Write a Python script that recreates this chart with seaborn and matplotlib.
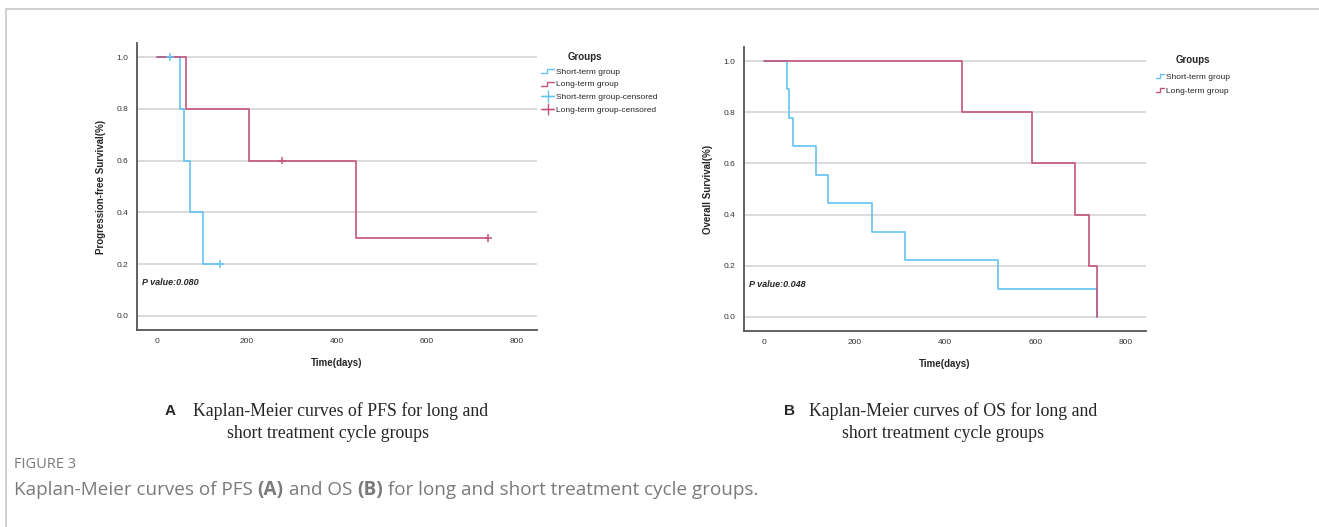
import matplotlib
matplotlib.use("Agg")
import matplotlib.pyplot as plt
from matplotlib.lines import Line2D
from matplotlib.legend_handler import HandlerBase
import numpy as np
import pandas as pd
import seaborn as sns

sns.set_style("white")
plt.rcParams["font.family"] = ["Liberation Sans", "DejaVu Sans"]

# --- data (days, survival proportion) ---
groups = ["Short-term group", "Long-term group"]

pfs_short_t = [0, 52, 61, 74, 102, 141]
pfs_short_s = [1.0, 0.8, 0.6, 0.4, 0.2, 0.2]
pfs_long_t = [0, 64, 204, 442, 737]
pfs_long_s = [1.0, 0.8, 0.6, 0.3, 0.3]
pfs_short_cens_t = [30, 141]
pfs_short_cens_s = [1.0, 0.2]
pfs_long_cens_t = [278, 737]
pfs_long_cens_s = [0.6, 0.3]

os_short_t = [0, 52, 55, 65, 115, 142, 239, 312, 518, 736]
os_short_s = [1.0, 0.889, 0.778, 0.667, 0.556, 0.444, 0.333, 0.222, 0.111, 0.0]
os_long_t = [0, 438, 594, 687, 719, 737]
os_long_s = [1.0, 0.8, 0.6, 0.4, 0.2, 0.0]

p_values = ["P value:0.080", "P value:0.048"]
x_ticks = [0, 200, 400, 600, 800]
y_ticks = [0.0, 0.2, 0.4, 0.6, 0.8, 1.0]

blue = "#62c3f4"
red = "#c4547c"
palette = {groups[0]: blue, groups[1]: red}


def curve_df(t_short, s_short, t_long, s_long):
    return pd.concat([
        pd.DataFrame({"time": t_short, "surv": s_short, "group": groups[0]}),
        pd.DataFrame({"time": t_long, "surv": s_long, "group": groups[1]}),
    ], ignore_index=True)


class StepHandler(HandlerBase):
    # little step glyph like the SPSS legend
    def create_artists(self, legend, orig, xd, yd, width, height, fontsize, trans):
        y0 = yd + height * 0.15
        y1 = yd + height * 0.8
        xs = [xd, xd + width * 0.45, xd + width * 0.45, xd + width]
        ys = [y0, y0, y1, y1]
        ln = Line2D(xs, ys, color=orig.get_color(), lw=1.0, transform=trans)
        return [ln]


def fx(px):
    return px / 1319


def fy(py):
    return 1 - py / 527


fig = plt.figure(figsize=(13.19, 5.27), dpi=100)
fig.patch.set_facecolor("white")

# thin frame lines top and left
fig.add_artist(Line2D([fx(6), 1], [fy(9), fy(9)], color="#c8c8c8", lw=1.2))
fig.add_artist(Line2D([fx(6), fx(6)], [0, fy(9)], color="#c8c8c8", lw=1.2))

axA = fig.add_axes([fx(137), fy(330), 400 / 1319, 287 / 527])
axB = fig.add_axes([fx(744), fy(331), 402 / 1319, 284 / 527])


def style_axes(ax, ylabel, ptext):
    ax.set_xlim(-44, 845)
    ax.set_ylim(-0.055, 1.055)
    ax.set_xticks(x_ticks)
    ax.set_yticks(y_ticks)
    ax.set_yticklabels([f"{v:.1f}" for v in y_ticks])
    ax.tick_params(length=0, labelsize=6, colors="#333333", pad=6)
    ax.yaxis.grid(True, color="#d4d4d4", lw=1.2)
    ax.xaxis.grid(False)
    ax.set_axisbelow(True)
    for side in ["top", "right"]:
        ax.spines[side].set_visible(False)
    for side in ["left", "bottom"]:
        ax.spines[side].set_color("#555555")
        ax.spines[side].set_linewidth(1.3)
    ax.set_xlabel("Time(days)", fontsize=7, fontweight="bold", labelpad=9)
    ax.set_ylabel(ylabel, fontsize=7, fontweight="bold", labelpad=8)
    ax.text(0.013, 0.165, ptext, transform=ax.transAxes, fontsize=6.5,
            fontweight="bold", fontstyle="italic", va="center")


# panel A: PFS
pfs = curve_df(pfs_short_t, pfs_short_s, pfs_long_t, pfs_long_s)
sns.lineplot(data=pfs, x="time", y="surv", hue="group", palette=palette,
             estimator=None, sort=False, drawstyle="steps-post", lw=1.2,
             legend=False, ax=axA)
cens = curve_df(pfs_short_cens_t, pfs_short_cens_s, pfs_long_cens_t, pfs_long_cens_s)
sns.scatterplot(data=cens, x="time", y="surv", hue="group", palette=palette,
                marker="+", s=30, linewidth=1.1, legend=False, ax=axA, zorder=3)
style_axes(axA, "Progression-free Survival(%)", p_values[0])

# panel B: OS
osd = curve_df(os_short_t, os_short_s, os_long_t, os_long_s)
sns.lineplot(data=osd, x="time", y="surv", hue="group", palette=palette,
             estimator=None, sort=False, drawstyle="steps-post", lw=1.2,
             legend=False, ax=axB)
style_axes(axB, "Overall Survival(%)", p_values[1])

# legends
step_blue = Line2D([], [], color=blue)
step_red = Line2D([], [], color=red)
handles_A = [
    step_blue, step_red,
    Line2D([], [], color=blue, marker="+", ms=8, lw=1.0),
    Line2D([], [], color=red, marker="+", ms=8, lw=1.0),
]
labels_A = [groups[0], groups[1], groups[0] + "-censored", groups[1] + "-censored"]
fig.text(fx(585), fy(57), "Groups", fontsize=7, fontweight="bold", ha="center", va="center")
legA = fig.legend(handles_A, labels_A, loc="upper left",
                  bbox_to_anchor=(fx(541), fy(68)), frameon=False,
                  fontsize=6, handlelength=1.6, handletextpad=0.25,
                  labelspacing=0.58, borderaxespad=0, borderpad=0,
                  handler_map={step_blue: StepHandler(), step_red: StepHandler()})

fig.text(fx(1193), fy(60), "Groups", fontsize=7, fontweight="bold", ha="center", va="center")
legB = fig.legend([step_blue, step_red], groups, loc="upper left",
                  bbox_to_anchor=(fx(1156), fy(73)), frameon=False,
                  fontsize=6, handlelength=1.0, handletextpad=0.15,
                  labelspacing=0.75, borderaxespad=0, borderpad=0,
                  handler_map={step_blue: StepHandler(), step_red: StepHandler()})

# panel captions
serif = ["Liberation Serif", "DejaVu Serif"]
cap_size = 12.8
fig.text(fx(165), fy(411), "A", fontsize=11, fontweight="bold", va="center")
fig.text(fx(341), fy(411), "Kaplan-Meier curves of PFS for long and",
         family=serif, fontsize=cap_size, va="center", ha="center")
fig.text(fx(328), fy(433), "short treatment cycle groups",
         family=serif, fontsize=cap_size, va="center", ha="center")
fig.text(fx(784), fy(411), "B", fontsize=11, fontweight="bold", va="center")
fig.text(fx(953), fy(411), "Kaplan-Meier curves of OS for long and",
         family=serif, fontsize=cap_size, va="center", ha="center")
fig.text(fx(943), fy(433), "short treatment cycle groups",
         family=serif, fontsize=cap_size, va="center", ha="center")

# figure caption
sansc = ["Open Sans", "DejaVu Sans"]
fig.text(fx(14), fy(465), "FIGURE 3", family=sansc, fontsize=10.5,
         color="#7a7a7a", va="center")
pieces = [("Kaplan-Meier curves of PFS ", "normal"), ("(A)", "bold"),
          (" and OS ", "normal"), ("(B)", "bold"),
          (" for long and short treatment cycle groups.", "normal")]
fig.canvas.draw()
renderer = fig.canvas.get_renderer()
xpos = 14
for txt, w in pieces:
    t = fig.text(fx(xpos), fy(490), txt, family=sansc, fontsize=13.6,
                 color="#7a7a7a", fontweight=w, va="center")
    bb = t.get_window_extent(renderer=renderer)
    xpos += bb.width

fig.savefig("out.png", dpi=100, facecolor="white")
